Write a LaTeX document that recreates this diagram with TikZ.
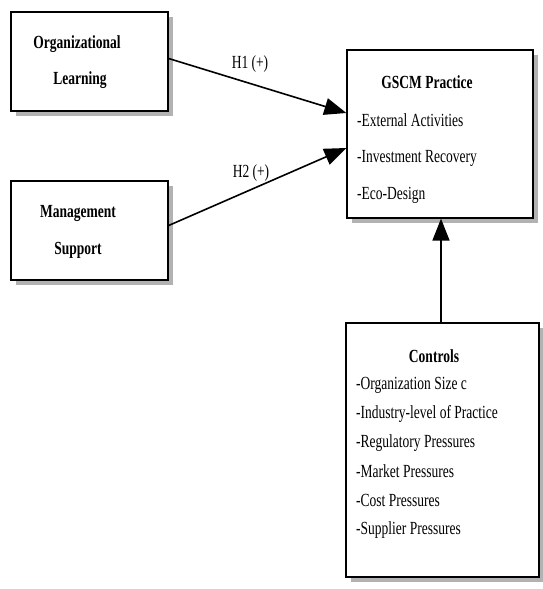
\documentclass[tikz,border=0pt]{standalone}
\usepackage{fontspec}
\setmainfont[FakeStretch=0.73]{Liberation Serif}
\usetikzlibrary{arrows.meta,shadows,calc}
\tikzset{
  box/.style={draw=black, line width=1.3pt, fill=white, minimum width=#1, inner sep=0pt,
    drop shadow={shadow xshift=5pt, shadow yshift=-5pt, fill=gray!60, opacity=1}},
  txt/.style={font=\fontsize{18.5}{21}\selectfont, inner sep=0pt},
  ttl/.style={font=\fontsize{18.5}{21}\selectfont\bfseries, inner sep=0pt},
  item/.style={txt, anchor=west},
  arr/.style={draw=black, line width=1.6pt, -{Triangle[length=22pt,width=17pt]}},
}
\begin{document}
\begin{tikzpicture}[x=1pt,y=-1pt]
\useasboundingbox (0,0) rectangle (543,589);
% boxes
\node[box=157pt, minimum height=99pt] (org) at (89.5,61.5) {};
\node[box=157pt, minimum height=99pt] (mgmt) at (89.5,230.5) {};
\node[box=186pt, minimum height=168pt] (gscm) at (440,134) {};
\node[box=193pt, minimum height=254pt] (ctrl) at (442.5,450) {};
% texts
\node[ttl] (t1) at (77,44) {Organizational};
\node[ttl] (t2) at (80,80) {Learning};
\node[ttl] (t3) at (78,213) {Management};
\node[ttl] (t4) at (78,250) {Support};
\node[ttl] (t5) at (427,82) {GSCM Practice};
\node[item] (g1) at (357,120) {-External Activities};
\node[item] (g2) at (357,158) {-Investment Recovery};
\node[item] (g3) at (357,195) {-Eco-Design};
\node[ttl] (t6) at (434,356) {Controls};
\node[item] (c1) at (356,385) {-Organization Size c};
\node[item] (c2) at (356,414) {-Industry-level of Practice};
\node[item] (c3) at (356,443) {-Regulatory Pressures};
\node[item] (c4) at (356,471) {-Market Pressures};
\node[item] (c5) at (356,500) {-Cost Pressures};
\node[item] (c6) at (356,530) {-Supplier Pressures};
% arrows
\draw[arr] ([yshift=3pt]org.east) -- ([yshift=21pt]gscm.west);
\draw[arr] ([yshift=5pt]mgmt.east) -- ([yshift=-14pt]gscm.west);
\draw[arr] ([xshift=-1.5pt]ctrl.north) -- ([xshift=-1.5pt]ctrl.north |- gscm.south);
% labels
\node[txt] (h1) at (250,64) {H1 (+)};
\node[txt] (h2) at (251,173) {H2 (+)};
\end{tikzpicture}
\end{document}
